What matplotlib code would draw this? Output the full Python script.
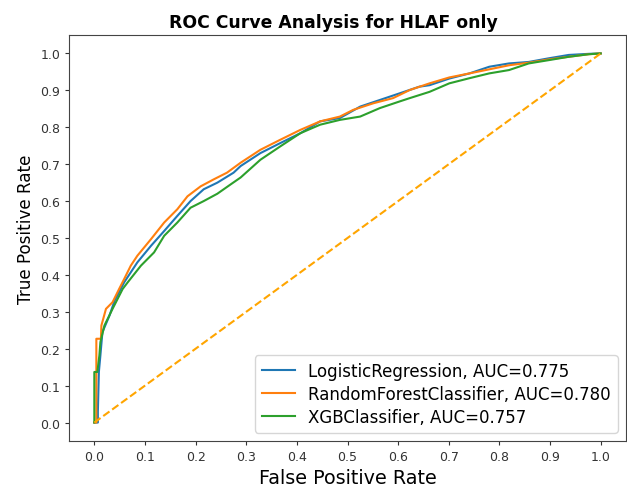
import matplotlib
matplotlib.use('Agg')
import matplotlib.pyplot as plt

# ROC points
lr_fpr = [0, 0.007, 0.007, 0.009, 0.012, 0.016, 0.030, 0.040, 0.059, 0.085, 0.112, 0.138, 0.164,
          0.190, 0.216, 0.243, 0.275, 0.289, 0.328, 0.367, 0.407, 0.446, 0.485, 0.525, 0.564,
          0.603, 0.642, 0.662, 0.701, 0.741, 0.780, 0.819, 0.858, 0.898, 0.937, 0.977, 1.0]
lr_tpr = [0, 0, 0.03, 0.137, 0.182, 0.245, 0.29, 0.33, 0.38, 0.434, 0.479, 0.519, 0.560,
          0.600, 0.632, 0.650, 0.677, 0.695, 0.730, 0.757, 0.784, 0.816, 0.825, 0.856, 0.874,
          0.892, 0.910, 0.914, 0.932, 0.946, 0.964, 0.973, 0.977, 0.987, 0.996, 0.999, 1.0]

rf_fpr = [0, 0.004, 0.004, 0.013, 0.014, 0.023, 0.036, 0.049, 0.059, 0.072, 0.085, 0.112, 0.138,
          0.164, 0.184, 0.210, 0.236, 0.262, 0.289, 0.328, 0.367, 0.407, 0.446, 0.485, 0.511,
          0.551, 0.590, 0.623, 0.662, 0.701, 0.741, 0.780, 0.819, 0.858, 0.898, 0.937, 0.977, 1.0]
rf_tpr = [0, 0, 0.227, 0.227, 0.263, 0.308, 0.326, 0.362, 0.389, 0.425, 0.452, 0.497, 0.542,
          0.578, 0.613, 0.640, 0.659, 0.677, 0.704, 0.739, 0.766, 0.793, 0.816, 0.829, 0.847,
          0.865, 0.879, 0.901, 0.919, 0.935, 0.946, 0.957, 0.968, 0.975, 0.984, 0.991, 0.998, 1.0]

xgb_fpr = [0, 0, 0.006, 0.010, 0.012, 0.020, 0.036, 0.056, 0.066, 0.092, 0.118, 0.138, 0.164,
           0.190, 0.216, 0.243, 0.269, 0.289, 0.328, 0.367, 0.407, 0.446, 0.485, 0.525, 0.564,
           0.603, 0.623, 0.662, 0.701, 0.741, 0.780, 0.819, 0.858, 0.898, 0.937, 0.977, 1.0]
xgb_tpr = [0, 0.137, 0.137, 0.182, 0.218, 0.263, 0.308, 0.362, 0.380, 0.425, 0.461, 0.506, 0.542,
           0.582, 0.600, 0.620, 0.645, 0.664, 0.712, 0.748, 0.784, 0.807, 0.820, 0.829, 0.852,
           0.870, 0.879, 0.896, 0.919, 0.933, 0.946, 0.955, 0.973, 0.982, 0.991, 0.998, 1.0]

models = ['LogisticRegression', 'RandomForestClassifier', 'XGBClassifier']
aucs = [0.775, 0.780, 0.757]
curves = [(lr_fpr, lr_tpr), (rf_fpr, rf_tpr), (xgb_fpr, xgb_tpr)]
ticks = [i / 10 for i in range(11)]

fig = plt.figure(figsize=(6.27, 4.89), dpi=100)
ax = fig.add_axes([69 / 627, 1 - 442 / 489, 557 / 627, 406 / 489])

for (fpr, tpr), name, auc in zip(curves, models, aucs):
    ax.plot(fpr, tpr, lw=1.5, label='{}, AUC={:.3f}'.format(name, auc))

ax.plot([0, 1], [0, 1], color='orange', linestyle='--', lw=1.5)

ax.set_xticks(ticks)
ax.set_yticks(ticks)
ax.tick_params(labelsize=9, colors='#333333', length=2.7)
for s in ax.spines.values():
    s.set_color('#444444')
ax.set_xlabel('False Positive Rate', fontsize=13.8)
ax.set_ylabel('True Positive Rate', fontsize=12.1, y=0.523)
# title sits a little left of the axes centre in the original
ax.set_title('ROC Curve Analysis for HLAF only', fontweight='bold', fontsize=12.4, x=0.475)
ax.legend(prop={'size': 12}, loc='lower right', labelspacing=0.3)

fig.savefig('out.png', dpi=100)
